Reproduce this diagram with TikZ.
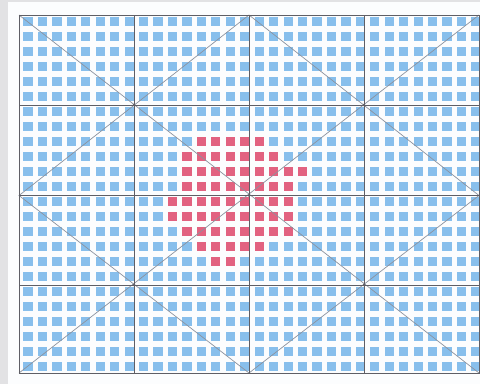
\documentclass[tikz,border=0pt]{standalone}
\definecolor{sqblue}{RGB}{136,191,236}
\definecolor{sqred}{RGB}{226,98,128}
\definecolor{paper}{RGB}{252,253,254}
\definecolor{margin}{RGB}{226,226,228}
\definecolor{gridline}{RGB}{95,95,102}
\definecolor{diagline}{RGB}{140,146,158}
\tikzset{
  bluesq/.style={fill=sqblue},
  redsq/.style={fill=sqred},
  frameline/.style={draw=gridline,line width=0.8pt},
  diagonal/.style={draw=diagline,line width=0.7pt},
  crossdot/.style={fill=gridline}
}
\begin{document}
\begin{tikzpicture}[x=1pt,y=-1pt]
\useasboundingbox (0,0) rectangle (480,384);
\fill[margin] (0,0) rectangle (480,384);
\fill[paper] (8,2) rectangle (480,384);
% blue squares
\foreach \i in {0,...,31}{
  \foreach \j in {0,...,23}{
    \fill[bluesq] ({28+14.45*\i-4.6},{21.5+15*\j-4.7}) rectangle ++(9.2,9.4);
  }
}
% red patch
\foreach \j/\a/\b in {8/12/16,9/11/17,10/11/19,11/11/18,12/10/18,13/10/18,14/11/18,15/12/16,16/13/14}{
  \foreach \i in {\a,...,\b}{
    \fill[redsq] ({28+14.45*\i-4.6},{21.5+15*\j-4.7}) rectangle ++(9.2,9.4);
  }
}
% frame points
\coordinate (tl) at (19,15);
\coordinate (tr) at (479,15);
\coordinate (bl) at (19,373);
\coordinate (br) at (479,373);
\coordinate (tm) at (249,15);
\coordinate (bm) at (249,373);
\coordinate (lm) at (19,195.5);
\coordinate (rm) at (479,195.5);
\coordinate (c) at (249,195.5);
\coordinate (q1) at (134,105);
\coordinate (q2) at (364,105);
\coordinate (q3) at (134,285);
\coordinate (q4) at (364,285);
% diagonals
\draw[diagonal] (tl) -- (br);
\draw[diagonal] (tr) -- (bl);
\draw[diagonal] (tm) -- (lm) -- (bm) -- (rm) -- cycle;
% grid lines
\draw[frameline] (tl) rectangle (br);
\draw[frameline] (134,15) -- (134,373);
\draw[frameline] (tm) -- (bm);
\draw[frameline] (364,15) -- (364,373);
\draw[frameline] (19,105) -- (479,105);
\draw[frameline] (lm) -- (rm);
\draw[frameline] (19,285) -- (479,285);
% intersection dots
\foreach \p in {q1,q2,q3,q4,c}{
  \fill[crossdot] (\p) circle (1.3);
}
\end{tikzpicture}
\end{document}
